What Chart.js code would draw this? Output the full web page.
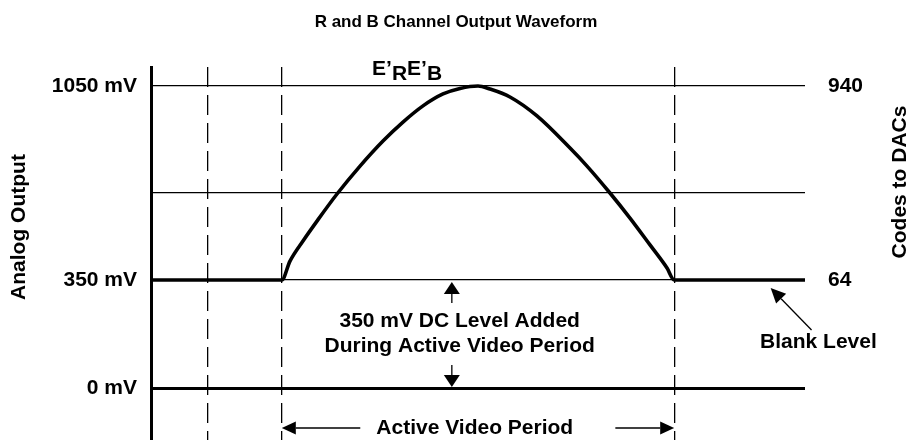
<!DOCTYPE html>
<html>
<head>
<meta charset="utf-8">
<title>R and B Channel Output Waveform</title>
<script src="https://cdn.jsdelivr.net/npm/chart.js@4.4.1/dist/chart.umd.min.js"></script>
<style>
  html, body { margin: 0; padding: 0; background: #fff; }
  #wrap { width: 912px; height: 440px; }
</style>
</head>
<body>
<div id="wrap"><canvas id="waveChart" width="912" height="440"></canvas></div>
<script>
const FONT = "'Liberation Sans', Arial, Helvetica, sans-serif";

// one video line: time (arbitrary units) and analog output in mV
const timeUnits = [0, 20, 21.25, 23.24, 25.38, 28.44, 31.96, 35.47, 38.53, 41.59, 44.65, 47.25, 50.0, 51.83, 54.89, 59.02, 64.07, 66.67, 70.18, 73.24, 76.30, 78.90, 80, 100];
const outputMv  = [350, 350, 426, 507, 587, 696, 788, 870, 932, 985, 1024, 1042, 1050, 1040, 1014, 952, 847, 788, 700, 599, 491, 398, 350, 350];

// reference levels (left axis)
const levelMv = [0, 350, 700, 1050];
const levelLabels = ['0 mV', '350 mV', '', '1050 mV'];

// DAC codes (right axis)
const codeLevelMv = [350, 1050];
const codeLabels = ['64', '940'];

// dashed timing markers, active video between the last two
const markerTimes = [8.6, 20, 80];
const activeStart = 20;
const activeEnd = 80;

// the levels are not drawn to scale: each one sits at a fixed fraction of the plot height
const levelFrac = [0.1394, 0.4290, 0.6622, 0.9491];

class LevelScale extends Chart.LinearScale {
  getPixelForValue(value) {
    if (value === null || value === undefined) return NaN;
    let i = 0;
    while (i < levelMv.length - 2 && value > levelMv[i + 1]) i++;
    const t = (value - levelMv[i]) / (levelMv[i + 1] - levelMv[i]);
    return this.getPixelForDecimal(levelFrac[i] + t * (levelFrac[i + 1] - levelFrac[i]));
  }
  getValueForPixel(pixel) {
    const d = this.getDecimalForPixel(pixel);
    let i = 0;
    while (i < levelFrac.length - 2 && d > levelFrac[i + 1]) i++;
    const t = (d - levelFrac[i]) / (levelFrac[i + 1] - levelFrac[i]);
    return levelMv[i] + t * (levelMv[i + 1] - levelMv[i]);
  }
}
LevelScale.id = 'level';
LevelScale.defaults = Chart.LinearScale.defaults;
Chart.register(LevelScale);

function arrow(ctx, x1, y1, x2, y2, len, half) {
  const a = Math.atan2(y2 - y1, x2 - x1);
  const bx = x2 - len * Math.cos(a);
  const by = y2 - len * Math.sin(a);
  ctx.beginPath();
  ctx.moveTo(x1, y1);
  ctx.lineTo(bx, by);
  ctx.stroke();
  ctx.beginPath();
  ctx.moveTo(x2, y2);
  ctx.lineTo(bx + half * Math.sin(a), by - half * Math.cos(a));
  ctx.lineTo(bx - half * Math.sin(a), by + half * Math.cos(a));
  ctx.closePath();
  ctx.fill();
}

// labels, arrows and rotated axis titles
const annotations = {
  id: 'annotations',
  afterDraw(chart) {
    const { ctx, scales: { x, y } } = chart;
    const px = v => x.getPixelForValue(v);
    const py = v => y.getPixelForValue(v);
    ctx.save();
    ctx.fillStyle = '#000';
    ctx.strokeStyle = '#000';
    ctx.lineWidth = 1.3;
    ctx.font = 'bold 21px ' + FONT;

    // E'R E'B signal name
    ctx.textAlign = 'left';
    ctx.textBaseline = 'alphabetic';
    let cx = px(33.8);
    const base = py(1050) - 11;
    [['E\u2019', 0], ['R', 5], ['E\u2019', 0], ['B', 5]].forEach(([s, dy]) => {
      ctx.fillText(s, cx, base + dy);
      cx += ctx.measureText(s).width;
    });

    // 350 mV DC level
    ctx.textBaseline = 'middle';
    ctx.textAlign = 'center';
    const ax = px(46);
    arrow(ctx, ax, py(350) + 23, ax, py(350) + 2, 12, 8);
    arrow(ctx, ax, py(0) - 23, ax, py(0) - 1, 12, 8);
    ctx.fillText('350 mV DC Level Added', px(47.2), py(350) + 41);
    ctx.fillText('During Active Video Period', px(47.2), py(0) - 42);

    // active video period
    const vy = py(0) + 40;
    ctx.fillText('Active Video Period', px(49.5), vy);
    arrow(ctx, px(32), vy, px(activeStart), vy, 14, 6.5);
    arrow(ctx, px(71), vy, px(activeEnd), vy, 14, 6.5);

    // blank level
    arrow(ctx, px(101), py(350) + 50, px(94.75), py(350) + 8, 15, 7);
    ctx.fillText('Blank Level', px(102.05), py(350) + 62);

    // axis titles, both reading bottom to top
    [['Analog Output', 19.5, 227], ['Codes to DACs', 900.5, 182]].forEach(([s, tx, ty]) => {
      ctx.save();
      ctx.translate(tx, ty);
      ctx.rotate(-Math.PI / 2);
      ctx.fillText(s, 0, 0);
      ctx.restore();
    });
    ctx.restore();
  }
};

const tickFont = { family: FONT, size: 21, weight: 'bold' };

new Chart(document.getElementById('waveChart'), {
  type: 'line',
  data: {
    datasets: [{
      data: timeUnits.map((t, i) => ({ x: t, y: outputMv[i] })),
      borderColor: '#000',
      borderWidth: 3.6,
      pointRadius: 0,
      tension: 0.4,
      cubicInterpolationMode: 'monotone',
      borderJoinStyle: 'round',
      fill: false
    }]
  },
  options: {
    responsive: false,
    animation: false,
    events: [],
    layout: { padding: 0 },
    plugins: {
      legend: { display: false },
      tooltip: { enabled: false },
      title: {
        display: true,
        text: 'R and B Channel Output Waveform',
        color: '#000',
        font: { family: FONT, size: 17, weight: 'bold' },
        padding: { top: 12, bottom: 34.6 }
      }
    },
    scales: {
      x: {
        type: 'linear',
        min: 0,
        max: 100,
        afterBuildTicks: s => { s.ticks = markerTimes.map(v => ({ value: v })); },
        afterFit: s => { s.height = 0; s.paddingLeft = 0; s.paddingRight = 0; },
        ticks: { display: false },
        grid: { color: '#000', lineWidth: 1.3, drawTicks: false },
        border: { display: false, dash: [20, 8] }
      },
      y: {
        type: 'level',
        position: 'left',
        min: -170,
        max: 1115,
        afterBuildTicks: s => { s.ticks = levelMv.map(v => ({ value: v })); },
        afterFit: s => { s.width = 151; s.paddingTop = 0; s.paddingBottom = 0; },
        ticks: {
          autoSkip: false,
          padding: 14,
          color: '#000',
          font: tickFont,
          callback: v => levelLabels[levelMv.indexOf(v)]
        },
        grid: {
          color: '#000',
          drawTicks: false,
          lineWidth: c => (c.tick && c.tick.value === 0 ? 3 : 1.3)
        },
        border: { display: true, width: 3, color: '#000' }
      },
      y2: {
        type: 'level',
        position: 'right',
        min: -170,
        max: 1115,
        afterBuildTicks: s => { s.ticks = codeLevelMv.map(v => ({ value: v })); },
        afterFit: s => { s.width = 107; s.paddingTop = 0; s.paddingBottom = 0; },
        ticks: {
          autoSkip: false,
          padding: 23,
          color: '#000',
          font: tickFont,
          callback: v => codeLabels[codeLevelMv.indexOf(v)]
        },
        grid: { display: false, drawTicks: false },
        border: { display: false }
      }
    }
  },
  plugins: [annotations]
});
</script>
</body>
</html>
